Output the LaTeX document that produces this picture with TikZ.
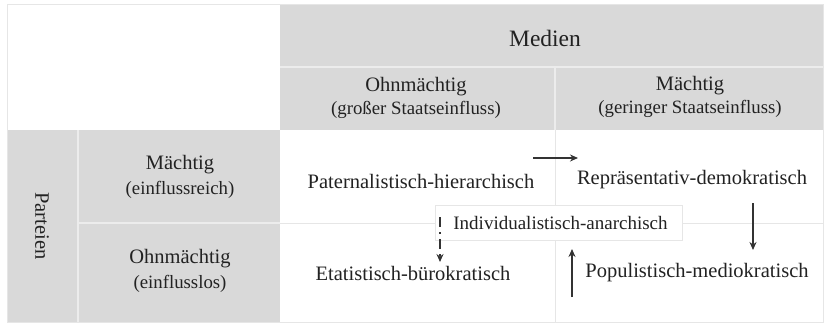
\documentclass[tikz,border=0pt]{standalone}
\usepackage{fontspec}
\setmainfont{Liberation Serif}
\usetikzlibrary{arrows.meta,shadows}
\definecolor{hdr}{HTML}{D9D9D9}
\definecolor{sep}{HTML}{ECECEC}
\definecolor{gridl}{HTML}{E6E6E6}
\definecolor{txt}{HTML}{222222}
\definecolor{arr}{HTML}{333333}
\newcommand{\subtxt}[1]{{\fontsize{18.8}{21}\selectfont #1}}
\tikzset{
  every node/.style={text=txt},
  cell/.style={font=\fontsize{20.5}{22}\selectfont, align=center, inner sep=0pt},
  hd/.style={align=center, inner sep=0pt, font=\fontsize{20.5}{24}\selectfont},
  flow/.style={-{Stealth[length=8pt,width=7pt]}, draw=arr, line width=1.3pt},
  dflow/.style={flow, dash pattern=on 10pt off 5pt on 2pt off 5pt},
  ibox/.style={draw=gridl, fill=white, line width=0.8pt, minimum width=247pt, minimum height=35pt,
     font=\fontsize{19}{22}\selectfont, text=txt, drop shadow={shadow xshift=1pt, shadow yshift=-1pt, opacity=0.15}}
}
\begin{document}
\begin{tikzpicture}[x=1pt,y=-1pt]
\useasboundingbox (0,0) rectangle (825,324);
\fill[white] (0,0) rectangle (825,324);
% gray header areas
\fill[hdr] (280,4) rectangle (823,130);
\fill[hdr] (7,130) rectangle (280,322);
% separators in gray
\draw[sep, line width=1.5pt] (280,67) -- (823,67);
\draw[sep, line width=1.5pt] (555,67) -- (555,130);
\draw[sep, line width=1.5pt] (78,130) -- (78,322);
\draw[sep, line width=1.5pt] (78,223) -- (280,223);
% grid in white area
\draw[gridl, line width=1pt] (555,130) -- (555,322);
\draw[gridl, line width=1pt] (280,223) -- (823,223);
\draw[gridl, line width=0.8pt] (7,4) rectangle (823,322);
% headers
\node[hd, font=\fontsize{23.5}{26}\selectfont] (medien) at (545,38) {Medien};
\node[hd] (ohnM) at (416,98) {Ohnmächtig\\[-1pt]\subtxt{(großer Staatseinfluss)}};
\node[hd] (maeM) at (690,97) {Mächtig\\[-1pt]\subtxt{(geringer Staatseinfluss)}};
\node[hd, rotate=-90] (parteien) at (42,226) {Parteien};
\node[hd] (maeP) at (180,177) {Mächtig\\[1pt]\subtxt{(einflussreich)}};
\node[hd] (ohnP) at (180,271) {Ohnmächtig\\[1pt]\subtxt{(einflusslos)}};
% cells
\node[cell] (pat) at (421,181) {Paternalistisch-hierarchisch};
\node[cell] (rep) at (692,180) {Repräsentativ-demokratisch};
\node[cell] (eta) at (413,273) {Etatistisch-bürokratisch};
\node[cell] (pop) at (697,273) {Populistisch-mediokratisch};
\node[ibox] (ind) at (558.5,222.5) {\hspace*{4pt}Individualistisch-anarchisch};
% arrows
\coordinate (a1s) at (533,158);
\coordinate (a1e) at (578,158);
\coordinate (a2s) at (753,203);
\coordinate (a2e) at (753,250);
\coordinate (a3s) at (572,297);
\coordinate (a3e) at (572,249);
\coordinate (a4s) at (440,217);
\coordinate (a4e) at (440,262);
\draw[flow] (a1s) -- (a1e);
\draw[flow] (a2s) -- (a2e);
\draw[flow] (a3s) -- (a3e);
\draw[dflow] (a4s) -- (a4e);
\end{tikzpicture}
\end{document}
